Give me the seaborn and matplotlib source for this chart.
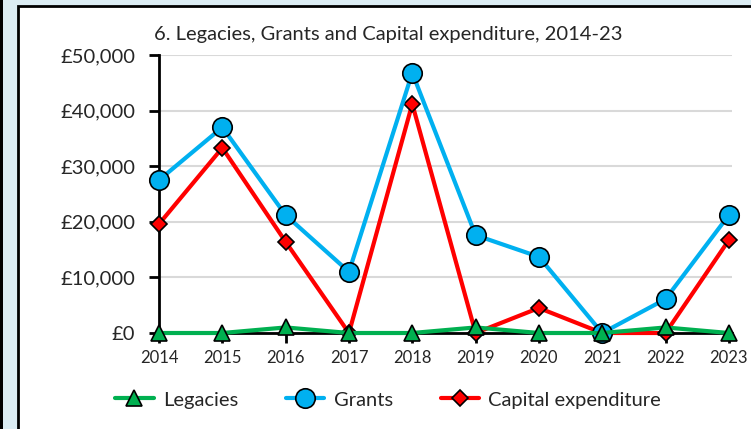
import numpy as np
import pandas as pd
import matplotlib
matplotlib.use("Agg")
import matplotlib.pyplot as plt
import matplotlib.patches as mpatches
import seaborn as sns

years = [2014, 2015, 2016, 2017, 2018, 2019, 2020, 2021, 2022, 2023]
legacies = [0, 0, 1000, 0, 0, 1000, 0, 0, 1000, 0]
grants = [27500, 37000, 21200, 11000, 46800, 17600, 13700, 0, 6100, 21200]
capital = [19600, 33300, 16400, 0, 41200, 0, 4500, 0, 0, 16700]

sns.set_style("white")
plt.rcParams["font.family"] = ["Lato", "DejaVu Sans"]

fig = plt.figure(figsize=(7.51, 4.29), dpi=100)
fig.patch.set_facecolor("#DBECF3")
W, H = 751, 429
# white panel with black border
fig.patches.append(mpatches.Rectangle((18 / W, -0.01), 1.0, (429 - 6) / H + 0.01,
                                      transform=fig.transFigure, facecolor="white",
                                      edgecolor="black", linewidth=2, zorder=-2))
fig.patches.append(mpatches.Rectangle((0, 0), 3 / W, 1, transform=fig.transFigure,
                                      facecolor="black", edgecolor="none", zorder=-2))

ax = fig.add_axes([159 / W, 1 - 333 / H, (732 - 159) / W, (333 - 55) / H])
ax.set_facecolor("none")

df = pd.DataFrame({"year": years, "Legacies": legacies, "Grants": grants,
                   "Capital expenditure": capital})

sns.lineplot(data=df, x="year", y="Capital expenditure", ax=ax, color="#FF0000",
             linewidth=3, marker="D", markersize=8, markeredgecolor="black",
             markeredgewidth=1.2, clip_on=False, zorder=3, label="Capital expenditure")
sns.lineplot(data=df, x="year", y="Grants", ax=ax, color="#00B0F0",
             linewidth=3, marker="o", markersize=14, markeredgecolor="black",
             markeredgewidth=1.2, clip_on=False, zorder=4, label="Grants")
sns.lineplot(data=df, x="year", y="Legacies", ax=ax, color="#00B050",
             linewidth=3, marker="^", markersize=12, markeredgecolor="black",
             markeredgewidth=1.2, clip_on=False, zorder=5, label="Legacies")

ax.set_xlim(2014, 2023.05)
ax.set_ylim(0, 50000)
ax.set_xticks(years)
ax.set_xticklabels([str(y) for y in years], fontsize=12)
ax.set_yticks(range(0, 50001, 10000))
ax.set_yticklabels(["£{:,}".format(v) for v in range(0, 50001, 10000)], fontsize=14.5)
ax.grid(axis="y", color="#D9D9D9", linewidth=1.5)
ax.set_axisbelow(True)
for s in ["top", "right"]:
    ax.spines[s].set_visible(False)
for s in ["left", "bottom"]:
    ax.spines[s].set_color("black")
    ax.spines[s].set_linewidth(2)
    ax.spines[s].set_zorder(2.5)
ax.tick_params(axis="both", direction="out", length=7, width=2, color="black",
               left=True, bottom=True)
ax.tick_params(axis="x", pad=5)
ax.tick_params(axis="y", pad=10)
ax.set_xlabel("")
ax.set_ylabel("")
ax.set_title("6. Legacies, Grants and Capital expenditure, 2014-23", fontsize=14.5,
             pad=11, x=(388 - 159) / (732 - 159))

h, l = ax.get_legend_handles_labels()
order = [2, 1, 0]
ax.legend([h[i] for i in order], [l[i] for i in order], loc="upper center",
          bbox_to_anchor=(0.40, -0.145), ncol=3, frameon=False, fontsize=14.5,
          handlelength=1.9, columnspacing=2.4, handletextpad=0.45)

fig.savefig("out.png", dpi=100, facecolor=fig.get_facecolor())
